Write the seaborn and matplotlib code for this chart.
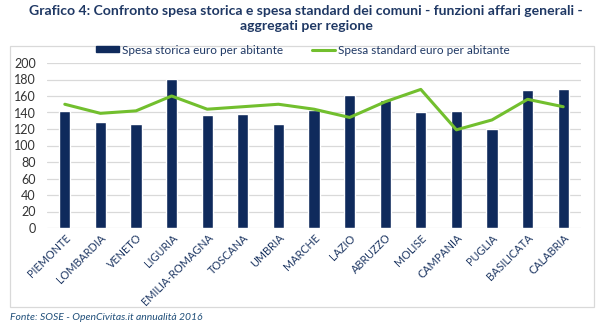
import numpy as np
import pandas as pd
import matplotlib
matplotlib.use("Agg")
import matplotlib.pyplot as plt
import seaborn as sns
from matplotlib.patches import Patch, Rectangle
from matplotlib.lines import Line2D

regioni = ["PIEMONTE", "LOMBARDIA", "VENETO", "LIGURIA", "EMILIA-ROMAGNA", "TOSCANA",
           "UMBRIA", "MARCHE", "LAZIO", "ABRUZZO", "MOLISE", "CAMPANIA", "PUGLIA",
           "BASILICATA", "CALABRIA"]
spesa_storica = [142, 128, 126, 181, 137, 138, 126, 143, 161, 155, 141, 142, 120, 167, 169]
spesa_standard = [150, 139, 142, 160, 144, 147, 150, 144, 134, 153, 168, 119, 131, 156, 147]
yticks = list(range(0, 201, 20))

title = ("Grafico 4: Confronto spesa storica e spesa standard dei comuni - funzioni affari generali -\n"
         "aggregati per regione")
footer = "Fonte: SOSE - OpenCivitas.it annualità 2016"
lbl_storica = "Spesa storica euro per abitante"
lbl_standard = "Spesa standard euro per abitante"

navy = "#0f2a5c"
green = "#72bf2e"
txt = "#1f3864"

df = pd.DataFrame({"regione": regioni, "storica": spesa_storica, "standard": spesa_standard})

sns.set_theme(style="white")
plt.rcParams["font.family"] = ["Lato", "DejaVu Sans"]

W, H = 602, 323
fig = plt.figure(figsize=(W / 100, H / 100), dpi=100)
ax = fig.add_axes([47 / W, 1 - 228 / H, (581 - 47) / W, (228 - 63) / H])

sns.barplot(data=df, x="regione", y="storica", color=navy, saturation=1, width=0.32, ax=ax, zorder=3)
sns.pointplot(data=df, x="regione", y="standard", color=green, markers="", linestyles="-",
              linewidth=2.2, ax=ax, zorder=4)

ax.set_ylim(0, 200)
ax.set_xlim(-0.5, len(regioni) - 0.5)
ax.set_yticks(yticks)
ax.set_yticklabels([str(v) for v in yticks], fontsize=9, color="#333333")
ax.yaxis.grid(True, color="#d9d9d9", linewidth=0.9, zorder=0)
ax.set_axisbelow(True)
ax.set_xlabel("")
ax.set_ylabel("")
ax.tick_params(axis="y", length=0, pad=8)
ax.tick_params(axis="x", length=0, pad=3)
plt.setp(ax.get_xticklabels(), rotation=45, ha="right", rotation_mode="anchor",
         fontsize=7.8, color=txt)
for s in ax.spines.values():
    s.set_visible(False)

# outer frame
fig.patches.append(Rectangle((10 / W, 1 - 307 / H), (594 - 10) / W, (307 - 46) / H,
                             transform=fig.transFigure, fill=False, edgecolor="#d9d9d9",
                             linewidth=0.9))

fig.text(306 / W, 1 - 5 / H, title, ha="center", va="top", fontsize=10.1, fontweight="bold",
         color=txt, linespacing=1.3)

handles = [Patch(facecolor=navy, edgecolor=navy),
           Line2D([0], [0], color=green, linewidth=2.2)]
fig.legend(handles, [lbl_storica, lbl_standard], loc="center", bbox_to_anchor=(303 / W, 1 - 50 / H),
           ncol=2, frameon=False, fontsize=8.5, handlelength=2.0, handleheight=0.45,
           columnspacing=2.4, handletextpad=0.25, labelcolor=txt)

fig.text(10 / W, 1 - 317 / H, footer, ha="left", va="center", fontsize=7.5, style="italic",
         color="#1f4e79")

fig.savefig("out.png", dpi=100)
